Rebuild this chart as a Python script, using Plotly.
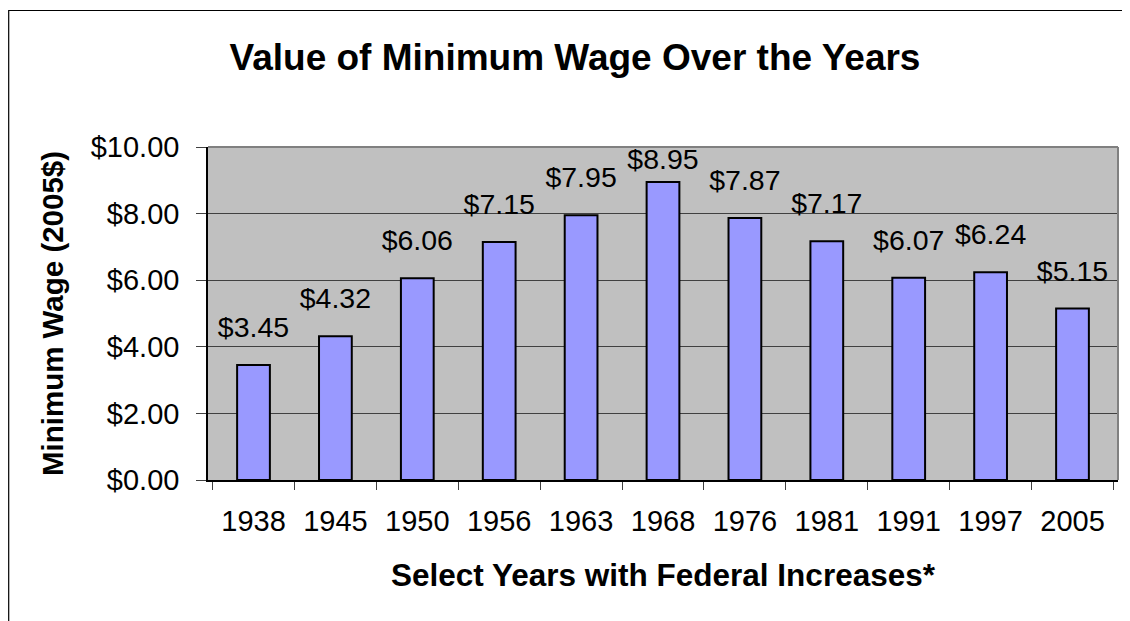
import plotly.graph_objects as go

years = ["1938", "1945", "1950", "1956", "1963", "1968", "1976", "1981", "1991", "1997", "2005"]
wages = [3.45, 4.32, 6.06, 7.15, 7.95, 8.95, 7.87, 7.17, 6.07, 6.24, 5.15]
y_ticks = [0, 2, 4, 6, 8, 10]

FONT = "Liberation Sans, Arial, sans-serif"
# page body has an 8px margin, so the figure is sized/offset to compensate
W, H = 1122, 613
L, R, T, B = 200, 12, 139, 141
pw, ph = W - L - R, H - T - B

fig = go.Figure()
fig.add_trace(go.Bar(
    x=years, y=wages,
    marker=dict(color="#9999FF", line=dict(color="#000000", width=2)),
    hoverinfo="x+y",
))

# data labels above bars (offset above bar top, kept inside plot area)
label_y = [min(v + 1.05, 9.55) for v in wages]
fig.add_trace(go.Scatter(
    x=years, y=label_y, mode="text",
    text=[f"${v:.2f}" for v in wages],
    textposition="middle center",
    textfont=dict(family=FONT, size=28.5, color="#000000"),
    hoverinfo="skip", cliponaxis=False,
))

# outer chart border
fig.add_shape(type="rect", xref="paper", yref="paper",
              x0=(0.7 - L) / pw, x1=(1140 - L) / pw,
              y0=-(640 - (H - B)) / ph, y1=((H - B) - 2.5) / ph,
              line=dict(color="#000000", width=1.2), fillcolor="rgba(0,0,0,0)", layer="above")

fig.update_layout(
    width=W, height=H,
    margin=dict(l=L, r=R, t=T, b=B),
    paper_bgcolor="#FFFFFF",
    plot_bgcolor="#C0C0C0",
    bargap=0.6,
    showlegend=False,
    font=dict(family=FONT, color="#000000"),
    title=dict(text="<b>Value of Minimum Wage Over the Years</b>",
               x=567 / W, xref="container", xanchor="center",
               y=1 - 49 / H, yref="container", yanchor="middle",
               font=dict(family=FONT, size=37, color="#000000")),
    xaxis=dict(
        type="category",
        categoryorder="array", categoryarray=years,
        tickson="boundaries",
        ticks="outside", ticklen=8, tickwidth=1, tickcolor="#404040",
        showgrid=False,
        showline=True, linecolor="#000000", linewidth=1.5,
        tickfont=dict(family=FONT, size=29, color="#000000"),
        tickangle=0,
        ticklabelstandoff=14,
        title=dict(text="<b>Select Years with Federal Increases*</b>",
                   font=dict(family=FONT, size=31.5, color="#000000"), standoff=28),
    ),
    yaxis=dict(
        range=[0, 10],
        tickvals=y_ticks,
        ticktext=[f"${t:.2f}" for t in y_ticks],
        ticks="outside", ticklen=10, tickwidth=1, tickcolor="#404040",
        showgrid=True, gridcolor="#404040", gridwidth=1,
        showline=True, linecolor="#000000", linewidth=1.5,
        zeroline=False,
        tickfont=dict(family=FONT, size=29, color="#000000"),
        ticklabelstandoff=11,
        title=dict(text="<b>Minimum Wage (2005$)</b>",
                   font=dict(family=FONT, size=29.5, color="#000000"), standoff=18),
    ),
)

# plot-area gray border on top and right
fig.add_shape(type="line", xref="paper", yref="paper", x0=0, x1=1, y0=1, y1=1,
              line=dict(color="#808080", width=2))
fig.add_shape(type="line", xref="paper", yref="paper", x0=1, x1=1, y0=0, y1=1,
              line=dict(color="#808080", width=2))

fig.write_html("out.html")
